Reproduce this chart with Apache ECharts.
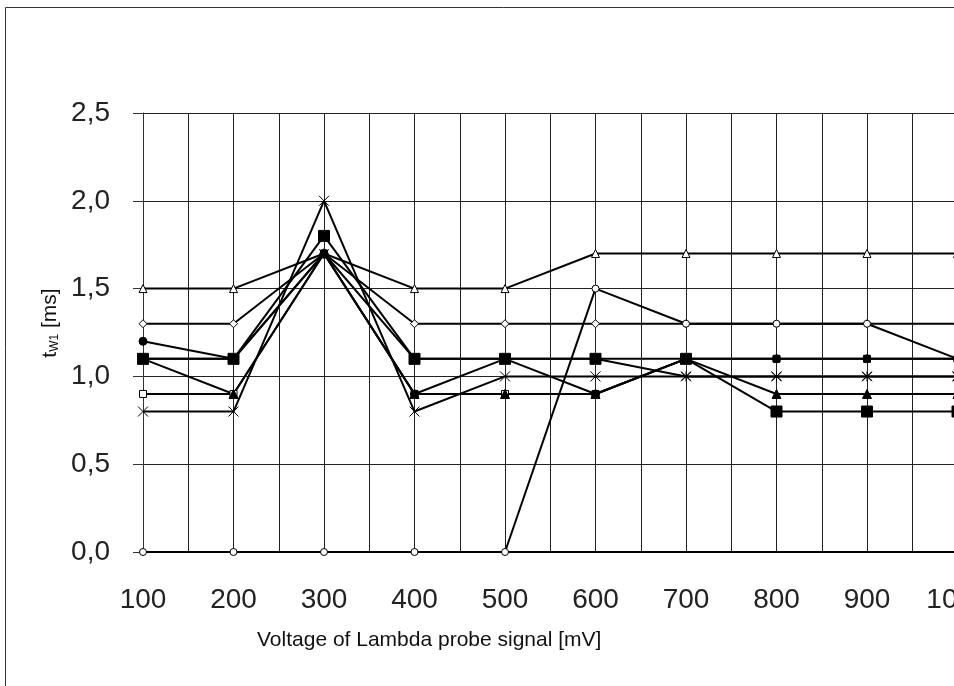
<!DOCTYPE html>
<html>
<head>
<meta charset="utf-8">
<script src="https://cdn.jsdelivr.net/npm/echarts@6/dist/echarts.min.js"></script>
<style>
  html, body { margin: 0; padding: 0; overflow: hidden; background: #fff; }
  #chart { width: 1000px; height: 686px; }
</style>
</head>
<body>
<div id="chart"></div>
<script>
// Voltage of Lambda probe signal [mV]
const voltages = [100, 200, 300, 400, 500, 600, 700, 800, 900, 1000];

// t_W1 [ms] per series
const openTriangle = [1.5, 1.5, 1.7, 1.5, 1.5, 1.7, 1.7, 1.7, 1.7, 1.7];
const openDiamond  = [1.3, 1.3, 1.7, 1.3, 1.3, 1.3, 1.3, 1.3, 1.3, 1.3];
const openCircle   = [0.0, 0.0, 0.0, 0.0, 0.0, 1.5, 1.3, 1.3, 1.3, 1.1];
const openSquare   = [0.9, 0.9, 1.7, 0.9, 0.9, 0.9, 1.1, 1.1, 1.1, 1.1];
const starMarks    = [1.1, 1.1, 1.7, 1.1, 1.1, 1.1, 1.0, 1.0, 1.0, 1.0];
const crossMarks   = [0.8, 0.8, 2.0, 0.8, 1.0, 1.0, 1.0, 1.0, 1.0, 1.0];
const filledTri    = [1.1, 0.9, 1.7, 0.9, 0.9, 0.9, 1.1, 0.9, 0.9, 0.9];
const filledCircle = [1.2, 1.1, 1.7, 0.9, 1.1, 0.9, 1.1, 1.1, 1.1, 1.1];
const filledSquare = [1.1, 1.1, 1.8, 1.1, 1.1, 1.1, 1.1, 0.8, 0.8, 0.8];

const X_PATH = 'path://M0,0L10,10M10,0L0,10';
const STAR_PATH = 'path://M0,0L10,10M10,0L0,10M5,-1L5,11';
const FONT = 'Liberation Sans, Arial, sans-serif';

function makeSeries(name, values, symbol, size, filled) {
    return {
        name: name,
        type: 'line',
        data: voltages.map((v, i) => [v, values[i]]),
        symbol: symbol,
        symbolSize: size,
        showAllSymbol: true,
        lineStyle: { color: '#000', width: 2 },
        itemStyle: {
            color: filled ? '#000' : '#fff',
            borderColor: '#000',
            borderWidth: 1
        },
        emphasis: { disabled: true }
    };
}

const chart = echarts.init(document.getElementById('chart'));
chart.setOption({
    animation: false,
    backgroundColor: '#fff',
    textStyle: { fontFamily: FONT },
    grid: { left: 143, right: 42.5, top: 113, bottom: 134 },
    graphic: [
        {
            type: 'rect',
            shape: { x: 5.5, y: 7.5, width: 2000, height: 2000 },
            style: { fill: 'none', stroke: '#333', lineWidth: 1 },
            silent: true
        },
        {
            type: 'text',
            left: 257,
            top: 630,
            style: {
                text: 'Voltage of Lambda probe signal [mV]',
                fontSize: 21,
                fill: '#111',
                fontFamily: FONT
            }
        },
        {
            type: 'text',
            x: 50,
            y: 323,
            rotation: Math.PI / 2,
            style: {
                text: '{t|t}{s|W1}{t| [ms]}',
                align: 'center',
                verticalAlign: 'middle',
                fontFamily: FONT,
                rich: {
                    t: { fontSize: 21, fill: '#111', fontFamily: FONT },
                    s: { fontSize: 12, fill: '#111', fontFamily: FONT, padding: [9, 0, 0, 0] }
                }
            }
        }
    ],
    xAxis: {
        type: 'value',
        min: 100,
        max: 1000,
        interval: 50,
        axisLine: { show: true, onZero: false, lineStyle: { color: '#000', width: 2 } },
        axisTick: { show: false },
        axisLabel: {
            fontSize: 28,
            color: '#222',
            margin: 34,
            formatter: v => (v % 100 === 0 ? String(v) : '')
        },
        splitLine: { show: true, lineStyle: { color: '#222', width: 1 } }
    },
    yAxis: {
        type: 'value',
        min: 0,
        max: 2.5,
        interval: 0.5,
        axisLine: { show: true, lineStyle: { color: '#333', width: 1 } },
        axisTick: { show: true, length: 10, lineStyle: { color: '#333' } },
        axisLabel: {
            fontSize: 28,
            color: '#222',
            margin: 33,
            formatter: v => v.toFixed(1).replace('.', ',')
        },
        splitLine: { show: true, lineStyle: { color: '#222', width: 1 } }
    },
    series: [
        makeSeries('A', openTriangle, 'triangle', 8, false),
        makeSeries('B', openDiamond, 'diamond', 8, false),
        makeSeries('C', openCircle, 'circle', 7, false),
        makeSeries('E', openSquare, 'rect', 7, false),
        makeSeries('F', starMarks, STAR_PATH, 10, false),
        makeSeries('G', crossMarks, X_PATH, 10, false),
        makeSeries('H', filledTri, 'triangle', 9, true),
        makeSeries('D', filledCircle, 'circle', 8, true),
        makeSeries('I', filledSquare, 'rect', 11, true)
    ]
});
</script>
</body>
</html>
